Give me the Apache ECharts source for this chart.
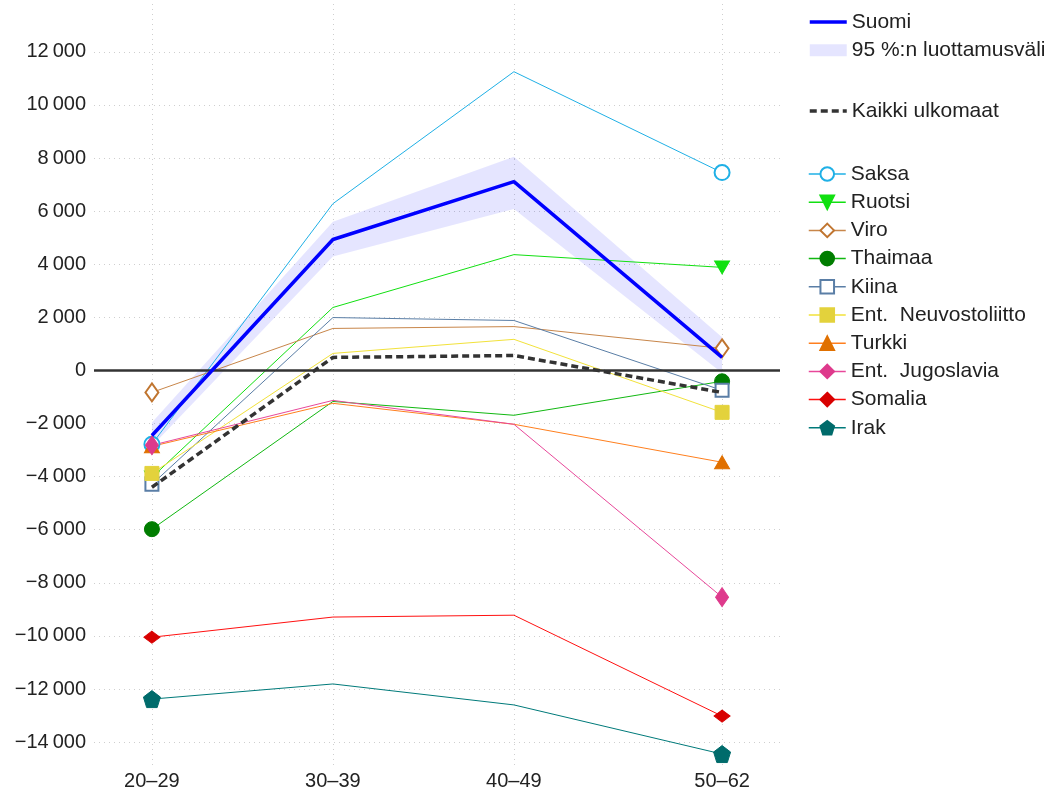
<!DOCTYPE html>
<html>
<head>
<meta charset="utf-8">
<script src="https://cdn.jsdelivr.net/npm/echarts@6/dist/echarts.min.js"></script>
<style>
  html, body { margin: 0; padding: 0; background: #fff; }
  #chart { width: 1051px; height: 791px; }
</style>
</head>
<body>
<div id="chart"></div>
<script>
// age groups, placed at their midpoints
const ageLabels = ['20–29', '30–39', '40–49', '50–62']
const agePos = [24.5, 34.5, 44.5, 56]
const yTicks = [-14000, -12000, -10000, -8000, -6000, -4000, -2000, 0, 2000, 4000, 6000, 8000, 10000, 12000]

const suomi = [-2450, 4930, 7110, 490]
const ciLow = [-2860, 4290, 6080, -100]
const ciHigh = [-1960, 5600, 8050, 1250]
const kaikki = [-4400, 490, 560, -830]

const saksa = [-2780, 6280, 11250, 7450]
const ruotsi = [-4030, 2370, 4360, 3880]
const viro = [-830, 1580, 1650, 830]
const thaimaa = [-5980, -1170, -1690, -410]
const kiina = [-4290, 1990, 1880, -750]
const neuvosto = [-3880, 640, 1170, -1580]
const turkki = [-2860, -1240, -2030, -3460]
const jugoslavia = [-2820, -1130, -2030, -8540]
const somalia = [-10050, -9290, -9220, -13020]
const irak = [-12380, -11810, -12600, -14450]

const font = '"Liberation Sans", Arial, sans-serif'
const bandColor = 'rgba(0, 0, 255, 0.1)'
const pentagon = 'path://M0,-1 L0.951,-0.309 L0.588,0.809 L-0.588,0.809 L-0.951,-0.309 Z'

// markers only on the first and last age group
function endPoints(values) {
  return values.map((v, i) => {
    if (i === 0 || i === values.length - 1) return [agePos[i], v]
    return { value: [agePos[i], v], symbol: 'none' }
  })
}

function country(name, values, lineColor, markColor, symbol, size, rotate) {
  return {
    name: name,
    type: 'line',
    data: endPoints(values),
    symbol: symbol,
    symbolSize: size,
    symbolRotate: rotate || 0,
    showAllSymbol: true,
    lineStyle: { color: lineColor, width: 1 },
    itemStyle: { color: markColor, borderColor: markColor, borderWidth: 1 },
    z: 3,
  }
}

function fmtNum(v) {
  const s = String(Math.abs(v)).replace(/\B(?=(\d{3})+(?!\d))/g, '\u2009')
  return (v < 0 ? '\u2212' : '') + s
}

const countries = [
  country('Saksa', saksa, '#1fb0e6', '#1fb0e6', 'emptyCircle', 15),
  country('Ruotsi', ruotsi, '#11e011', '#11e011', 'triangle', [15, 13], 180),
  country('Viro', viro, '#c8864a', '#c07530', 'emptyDiamond', [13, 18]),
  country('Thaimaa', thaimaa, '#11b811', '#007d00', 'circle', 15),
  country('Kiina', kiina, '#5a7ea6', '#5a7ea6', 'emptyRect', 13),
  country('Ent.  Neuvostoliitto', neuvosto, '#f2e23a', '#e3d23c', 'rect', 14),
  country('Turkki', turkki, '#ff7f1e', '#e07000', 'triangle', [15, 13]),
  country('Ent.  Jugoslavia', jugoslavia, '#e8489a', '#de3a8c', 'diamond', [13, 19]),
  country('Somalia', somalia, '#ff1010', '#d80000', 'diamond', [16, 12]),
  country('Irak', irak, '#007a7a', '#006b6b', pentagon, 17),
]

const legendText = { fontSize: 21, color: '#222', lineHeight: 22, fontFamily: font }
const noMark = { opacity: 0 }

const chart = echarts.init(document.getElementById('chart'))

chart.setOption({
  animation: false,
  backgroundColor: '#fff',
  textStyle: { fontFamily: font },
  grid: { left: 94, right: 271, top: 4, bottom: 24, containLabel: false },
  legend: [
    {
      data: [
        { name: 'Suomi', itemStyle: noMark, lineStyle: { width: 3.5 } },
        { name: '95 %:n luottamusväli', icon: 'rect', itemStyle: { color: bandColor } },
      ],
      orient: 'vertical', left: 808, top: 11, padding: 0,
      itemWidth: 37, itemHeight: 12, itemGap: 6.2,
      textStyle: legendText,
    },
    {
      data: [{ name: 'Kaikki ulkomaat', itemStyle: noMark, lineStyle: { width: 3.5 } }],
      orient: 'vertical', left: 808, top: 100, padding: 0,
      itemWidth: 37, itemHeight: 12, itemGap: 6.2,
      textStyle: legendText,
    },
    {
      data: countries.map(s => ({ name: s.name, lineStyle: { width: 1.5 } })),
      orient: 'vertical', left: 808, top: 163, padding: 0,
      itemWidth: 37, itemHeight: 17, itemGap: 6.2,
      textStyle: legendText,
    },
  ],
  xAxis: {
    type: 'value',
    min: 21.3,
    max: 59.2,
    axisLine: { show: false },
    axisTick: { show: false, customValues: agePos },
    axisLabel: {
      customValues: agePos,
      formatter: v => ageLabels[agePos.indexOf(v)],
      fontSize: 20, color: '#222', margin: 5, fontFamily: font,
    },
    splitLine: { show: true, lineStyle: { color: '#cfcfcf', type: [1, 4], width: 1 } },
  },
  yAxis: {
    type: 'value',
    min: -14900,
    max: 13800,
    axisLine: { show: false },
    axisTick: { show: false, customValues: yTicks },
    axisLabel: {
      customValues: yTicks,
      formatter: fmtNum,
      fontSize: 20, color: '#222', margin: 8, fontFamily: font,
    },
    splitLine: { show: true, lineStyle: { color: '#cfcfcf', type: [1, 4], width: 1 } },
  },
  series: [
    {
      name: '95 %:n luottamusväli',
      type: 'custom',
      data: agePos.map((x, i) => [x, ciLow[i], ciHigh[i]]),
      encode: { x: 0, y: [1, 2] },
      renderItem: (params, api) => {
        if (params.dataIndex !== 0) return null
        const pts = []
        agePos.forEach((x, i) => pts.push(api.coord([x, ciHigh[i]])))
        for (let i = agePos.length - 1; i >= 0; i--) pts.push(api.coord([agePos[i], ciLow[i]]))
        return { type: 'polygon', shape: { points: pts }, style: { fill: bandColor } }
      },
      itemStyle: { color: bandColor },
      z: 1,
      silent: true,
      markLine: {
        silent: true,
        symbol: 'none',
        label: { show: false },
        lineStyle: { color: '#333', width: 2.5, type: 'solid' },
        data: [{ yAxis: 0 }],
      },
    },
    ...countries,
    {
      name: 'Kaikki ulkomaat',
      type: 'line',
      data: kaikki.map((v, i) => [agePos[i], v]),
      symbol: 'none',
      lineStyle: { color: '#333', width: 3.5, type: [7, 4] },
      itemStyle: { color: '#333' },
      z: 4,
    },
    {
      name: 'Suomi',
      type: 'line',
      data: suomi.map((v, i) => [agePos[i], v]),
      symbol: 'none',
      lineStyle: { color: '#0000ff', width: 3.5 },
      itemStyle: { color: '#0000ff' },
      z: 5,
    },
  ],
})
</script>
</body>
</html>
